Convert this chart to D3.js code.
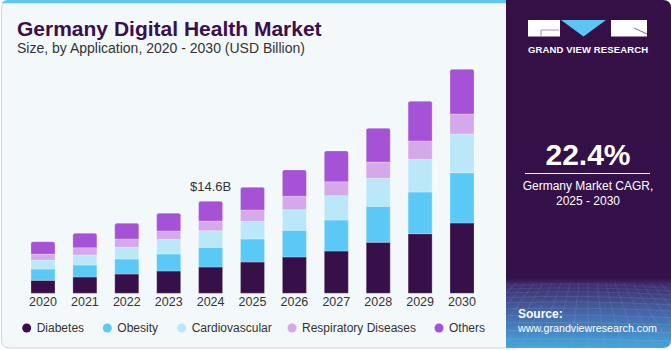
<!DOCTYPE html>
<html><head><meta charset="utf-8">
<script src="https://cdn.jsdelivr.net/npm/d3@7"></script>
<style>html,body{margin:0;padding:0;background:#fff;}svg{display:block;font-family:"Liberation Sans",Arial,sans-serif;}</style>
</head><body><svg id="c" width="671" height="350"></svg>
<script>
const years = ["2020","2021","2022","2023","2024","2025","2026","2027","2028","2029","2030"];
const seriesNames = ["Diabetes","Obesity","Cardiovascular","Respiratory Diseases","Others"];
const diabetes = [2.06,2.59,3.06,3.54,4.17,4.97,5.76,6.71,8.09,9.46,11.16];
const obesity = [1.79,1.90,2.38,2.70,3.13,3.65,4.24,4.92,5.71,6.62,7.98];
const cardiovascular = [1.43,1.59,1.86,2.33,2.63,2.81,3.27,3.86,4.44,5.19,6.14];
const respiratory = [0.95,1.16,1.32,1.32,1.54,1.79,2.13,2.22,2.59,2.90,3.17];
const others = [1.95,2.29,2.49,2.81,3.13,3.60,4.17,4.87,5.35,6.30,7.09];
const colors = ["#37104a","#5bc9f6","#bbe8f8","#d5a8eb","#a552d6"];
const annotation = {year:"2024", label:"$14.6B"};

const svg = d3.select("#c");
const defs = svg.append("defs");

// left panel background
svg.append("rect").attr("x",1.5).attr("y",1.5).attr("width",520).attr("height",346.5).attr("rx",7)
  .attr("fill","#f3f8fb").attr("stroke","#cfd4d8").attr("stroke-width",1);
// top blue strip
const clipTop = defs.append("clipPath").attr("id","topclip");
clipTop.append("rect").attr("x",0).attr("y",0).attr("width",507).attr("height",3.2);
svg.append("rect").attr("x",0.5).attr("y",0).attr("width",520).attr("height",20).attr("rx",7)
  .attr("fill","#5ec6ef").attr("clip-path","url(#topclip)");

// right panel
const grad = defs.append("linearGradient").attr("id","rg").attr("x1",0).attr("y1",0).attr("x2",0).attr("y2",1);
grad.append("stop").attr("offset","0").attr("stop-color","#341046");
grad.append("stop").attr("offset","0.8").attr("stop-color","#35114a");
grad.append("stop").attr("offset","0.815").attr("stop-color","#3f2a68");
grad.append("stop").attr("offset","0.9").attr("stop-color","#4567a8");
grad.append("stop").attr("offset","1").attr("stop-color","#45a6dc");
const rp = defs.append("clipPath").attr("id","rpclip");
rp.append("path").attr("d","M506,0 H663 Q671,0 671,8 V340 Q671,348 663,348 H506 Z");
svg.append("path").attr("d","M506,0 H663 Q671,0 671,8 V340 Q671,348 663,348 H506 Z").attr("fill","url(#rg)");
// grid texture
const gridG = svg.append("g").attr("clip-path","url(#rpclip)").attr("stroke","#9cc6f0").attr("fill","none");
for (let i=0;i<12;i++){
  const y0 = 285 + Math.pow(i/11,1.6)*63;
  gridG.append("path").attr("d",`M506,${y0} Q588,${y0-4+i*0.3} 671,${y0+2}`).attr("stroke-opacity",0.12+i*0.02).attr("stroke-width",0.7);
}
for (let i=-10;i<=20;i++){
  const xt = 588 + i*9, xb = 588 + i*17;
  gridG.append("line").attr("x1",xt).attr("y1",283).attr("x2",xb).attr("y2",350).attr("stroke-opacity",0.2).attr("stroke-width",0.7);
}

// logo
const lg = svg.append("g");
lg.append("rect").attr("x",528).attr("y",20).attr("width",32).attr("height",16.5).attr("fill","#fff");
lg.append("path").attr("d","M541,30 H559 M541,30 V36").attr("stroke","#8b7a96").attr("stroke-width",0.8).attr("fill","none");
lg.append("path").attr("d","M561,20 H606 L583.5,36.5 Z").attr("fill","#5bc6f2");
lg.append("rect").attr("x",611).attr("y",20).attr("width",36).attr("height",16.5).attr("fill","#fff");
lg.append("path").attr("d","M634,28 L647,34").attr("stroke","#5a4a6a").attr("stroke-width",0.8);
svg.append("text").attr("x",528).attr("y",53).attr("fill","#fff")
  .attr("font-size",9.5).attr("font-weight","bold").attr("textLength",120).attr("lengthAdjust","spacing").text("GRAND VIEW RESEARCH");

// CAGR
svg.append("text").attr("x",588).attr("y",165).attr("text-anchor","middle").attr("fill","#fff")
  .attr("font-size",30).attr("font-weight","bold").text("22.4%");
svg.append("line").attr("x1",525).attr("x2",650).attr("y1",173.5).attr("y2",173.5).attr("stroke","#fff").attr("stroke-width",1);
svg.append("text").attr("x",588).attr("y",190).attr("text-anchor","middle").attr("fill","#fff").attr("font-size",12).text("Germany Market CAGR,");
svg.append("text").attr("x",588).attr("y",205).attr("text-anchor","middle").attr("fill","#fff").attr("font-size",12).text("2025 - 2030");
svg.append("text").attr("x",518).attr("y",318).attr("fill","#fff").attr("font-size",12).attr("font-weight","bold").text("Source:");
svg.append("text").attr("x",518).attr("y",332).attr("fill","#fff").attr("font-size",11.5)
  .attr("textLength",139).attr("lengthAdjust","spacingAndGlyphs").text("www.grandviewresearch.com");

// title
svg.append("text").attr("x",17).attr("y",36).attr("fill","#3a0f4c").attr("font-size",21).attr("font-weight",900)
  .attr("font-family","'Liberation Sans',Arial,sans-serif").text("Germany Digital Health Market");
svg.append("text").attr("x",17).attr("y",52.5).attr("fill","#333").attr("font-size",14).text("Size, by Application, 2020 - 2030 (USD Billion)");

// scales
const x = d3.scaleBand().domain(years).range([18.4,486.6]).paddingInner(0.427).paddingOuter(0.3);
const y = d3.scaleLinear().domain([0,20]).range([293.3, 293.3 - 20*92/14.6]);

const table = years.map((yr,i)=>({year:yr, Diabetes:diabetes[i], Obesity:obesity[i], Cardiovascular:cardiovascular[i], "Respiratory Diseases":respiratory[i], Others:others[i]}));
const stack = d3.stack().keys(seriesNames)(table);
const color = d3.scaleOrdinal().domain(seriesNames).range(colors);

const bars = svg.append("g");
stack.forEach((layer,li)=>{
  bars.append("g").selectAll("path").data(layer).join("path")
    .attr("d",d=>{
      const x0 = x(d.data.year), w = x.bandwidth();
      const yt = y(d[1]), yb = y(d[0]);
      if (li === stack.length-1){
        const r = 2;
        return `M${x0},${yb} V${yt+r} Q${x0},${yt} ${x0+r},${yt} H${x0+w-r} Q${x0+w},${yt} ${x0+w},${yt+r} V${yb} Z`;
      }
      return `M${x0},${yb} V${yt} H${x0+w} V${yb} Z`;
    })
    .attr("fill",color(layer.key))
    .attr("stroke","rgba(255,255,255,0.3)").attr("stroke-width",0.8);
});

// annotation
const ai = years.indexOf(annotation.year);
svg.append("text").attr("x",x(annotation.year)+x.bandwidth()/2).attr("y",y(stack[4][ai][1])-10)
  .attr("text-anchor","middle").attr("fill","#333").attr("font-size",13).text(annotation.label);

// x axis
const xAxis = svg.append("g").attr("transform","translate(0,293.3)").call(d3.axisBottom(x).tickSize(0).tickPadding(4));
xAxis.select(".domain").remove();
xAxis.selectAll("text").attr("font-size",12.5).attr("fill","#333").attr("font-family","'Liberation Sans',Arial,sans-serif").attr("dy","0.71em");

// legend
const legendX = [26.7,107.3,181.7,292,439];
const leg = svg.append("g");
seriesNames.forEach((n,i)=>{
  leg.append("circle").attr("cx",legendX[i]).attr("cy",328).attr("r",4.5).attr("fill",colors[i]);
  leg.append("text").attr("x",legendX[i]+10).attr("y",332.3).attr("fill","#333").attr("font-size",12).text(n);
});
</script></body></html>
